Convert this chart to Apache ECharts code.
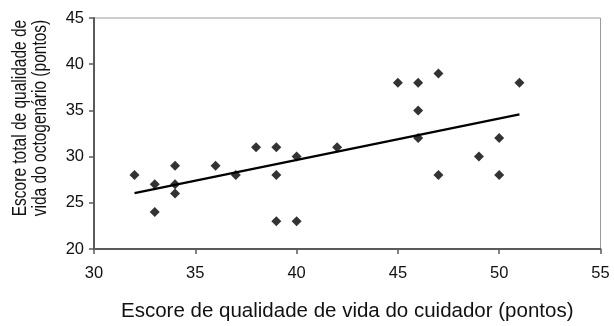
<!DOCTYPE html>
<html>
<head>
<meta charset="utf-8">
<script src="https://cdn.jsdelivr.net/npm/echarts@6/dist/echarts.min.js"></script>
<style>html,body{margin:0;padding:0;background:#fff}#c{width:614px;height:326px}</style>
</head>
<body>
<div id="c"></div>
<script>
var caregiverScore = [32,33,33,34,34,34,36,37,38,39,39,39,40,40,42,45,46,46,46,47,47,49,50,50,51];
var elderScore     = [28,27,24,29,27,26,29,28,31,31,28,23,30,23,31,38,38,35,32,39,28,30,32,28,38];
var xTicks = [30,35,40,45,50,55];
var yTicks = [20,25,30,35,40,45];
var xTitle = 'Escore de qualidade de vida do cuidador (pontos)';
var yTitle = 'Escore total de qualidade de\nvida do octogenário (pontos)';

var points = caregiverScore.map(function(x,i){return [x, elderScore[i]];});
// least squares trend line from the data
var n = points.length, mx = 0, my = 0;
points.forEach(function(p){mx += p[0]; my += p[1];});
mx /= n; my /= n;
var sxy = 0, sxx = 0;
points.forEach(function(p){sxy += (p[0]-mx)*(p[1]-my); sxx += (p[0]-mx)*(p[0]-mx);});
var slope = sxy/sxx, icpt = my - slope*mx;
var xMin = Math.min.apply(null, caregiverScore), xMax = Math.max.apply(null, caregiverScore);
var trend = [[xMin, icpt + slope*xMin], [xMax, icpt + slope*xMax]];

var font = '"Liberation Sans", Arial, sans-serif';
var chart = echarts.init(document.getElementById('c'), null, {renderer:'canvas'});
chart.setOption({
  animation: false,
  grid: {left: 94, right: 13.5, top: 18, bottom: 77, containLabel: false, outerBoundsMode: 'none',
         show: true, borderColor: '#9a9a9a', borderWidth: 1},
  graphic: [{
    type: 'text', x: 30.5, y: 118, rotation: Math.PI/2, scaleX: 1, scaleY: 1.28,
    style: {text: yTitle, font: '15.5px ' + font, fill: '#111', align: 'center',
            verticalAlign: 'middle', lineHeight: 15.3}
  }],
  xAxis: {
    type: 'value', min: xTicks[0], max: xTicks[xTicks.length-1], interval: 5,
    name: xTitle, nameLocation: 'middle', nameGap: 52,
    nameTextStyle: {fontFamily: font, fontSize: 20.5, color: '#111'},
    axisLine: {show: true, lineStyle: {color: '#5a5a5a', width: 2}},
    axisTick: {show: true, length: 5, lineStyle: {color: '#5a5a5a', width: 1.5}},
    axisLabel: {fontFamily: font, fontSize: 16.5, color: '#111', margin: 16},
    splitLine: {show: false}
  },
  yAxis: {
    type: 'value', min: yTicks[0], max: yTicks[yTicks.length-1], interval: 5,
    axisLine: {show: true, lineStyle: {color: '#5a5a5a', width: 2}},
    axisTick: {show: true, length: 5, lineStyle: {color: '#5a5a5a', width: 1.5}},
    axisLabel: {fontFamily: font, fontSize: 16.5, color: '#111', margin: 10},
    splitLine: {show: false}
  },
  series: [
    {type: 'scatter', data: points, symbol: 'diamond', symbolSize: [10, 10],
     itemStyle: {color: '#000'}, z: 3},
    {type: 'line', data: trend, symbol: 'none', lineStyle: {color: '#000', width: 2.2}, z: 2}
  ]
});
</script>
</body>
</html>
